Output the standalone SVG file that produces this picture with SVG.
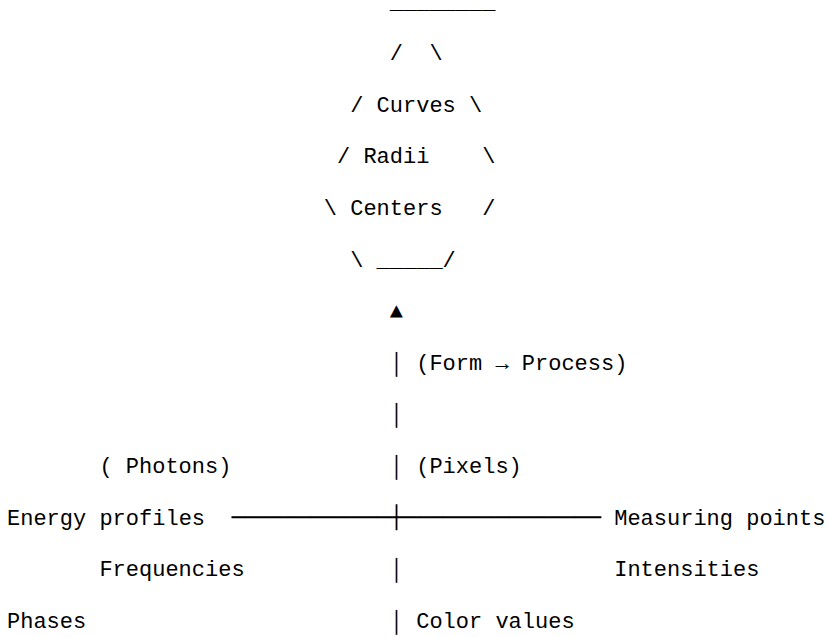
<svg xmlns="http://www.w3.org/2000/svg" width="829" height="637" viewBox="0 0 829 637" xml:space="preserve">
<style>
text { font-family: "Liberation Mono", "DejaVu Sans Mono", monospace; font-size: 22px; fill: #000; white-space: pre; }
text.box { font-family: "DejaVu Sans Mono", "Liberation Mono", monospace; }
</style>
<rect width="829" height="637" fill="#fff"/>
<g id="hexagon">
<text x="389.8" y="9">________</text>
<text x="389.8" y="60.1">/  \</text>
<text x="350.2" y="111.7">/ Curves \</text>
<text x="337" y="163.3">/ Radii    \</text>
<text x="323.8" y="214.9">\ Centers   /</text>
<text x="350.2" y="266.5">\ _____/</text>
</g>
<g id="connectors">
<text x="389.8" y="318.1">▲</text>
<text x="389.8" y="369.7">│</text>
<text x="389.8" y="421.3">│</text>
<text x="389.8" y="472.9">│</text>
<text class="box" x="231.4" y="524.5" textLength="158.4" lengthAdjust="spacingAndGlyphs">────────────</text>
<text class="box" x="389.8" y="524.5" textLength="13.2" lengthAdjust="spacingAndGlyphs">┼</text>
<text class="box" x="403" y="524.5" textLength="198" lengthAdjust="spacingAndGlyphs">───────────────</text>
<text x="389.8" y="576.1">│</text>
<text x="389.8" y="627.7">│</text>
</g>
<g id="form-process"><text x="416.2" y="369.7">(Form → Process)</text></g>
<g id="photons"><text x="99.4" y="472.9">( Photons)</text></g>
<g id="pixels"><text x="416.2" y="472.9">(Pixels)</text></g>
<g id="energy-profiles"><text x="7" y="524.5">Energy profiles</text></g>
<g id="measuring-points"><text x="614.2" y="524.5">Measuring points</text></g>
<g id="frequencies"><text x="99.4" y="576.1">Frequencies</text></g>
<g id="intensities"><text x="614.2" y="576.1">Intensities</text></g>
<g id="phases"><text x="7" y="627.7">Phases</text></g>
<g id="color-values"><text x="416.2" y="627.7">Color values</text></g>
</svg>
